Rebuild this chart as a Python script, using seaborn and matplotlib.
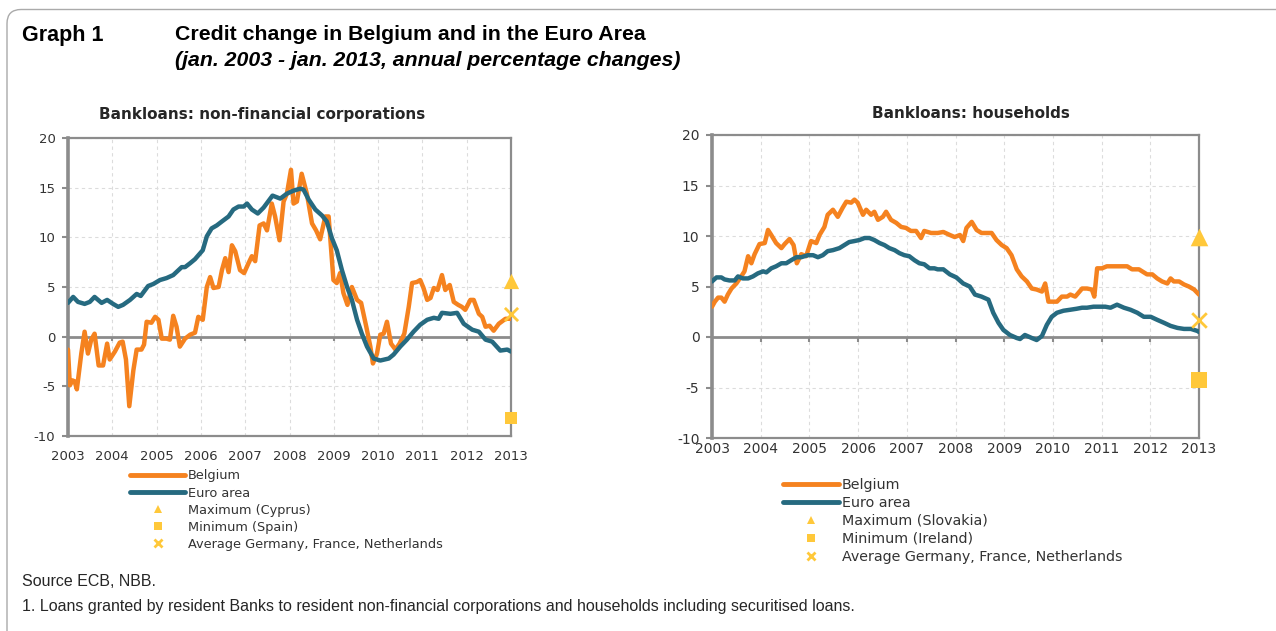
import numpy as np
import pandas as pd
import matplotlib.pyplot as plt
import seaborn as sns
from matplotlib.lines import Line2D
from matplotlib.patches import FancyBboxPatch

# ---- data (months since jan. 2003, annual % change) ----
nfc_be_m = [0, 0.5, 1.2, 1.8, 2.4, 3.6, 4.5, 5.4, 6.3, 7.2, 8.3, 9.5, 10.6, 11.3, 12.7, 14.0, 14.8, 15.7,
            16.6, 17.7, 18.6, 19.9, 20.6, 21.3, 22.6, 23.6, 24.5, 25.4, 26.7, 27.6, 28.5, 29.4, 30.3,
            31.7, 33.1, 34.4, 35.3, 36.5, 37.6, 38.5, 39.4, 40.8, 41.7, 42.6, 43.5, 44.4, 45.3, 46.6,
            47.7, 48.9, 49.8, 50.7, 51.9, 53.0, 53.9, 55.2, 56.1, 57.3, 58.4, 59.3, 60.4, 61.1, 62.0,
            63.3, 64.7, 66.1, 67.2, 68.3, 69.7, 70.6, 71.9, 72.8, 73.7, 74.6, 75.7, 76.9, 78.3, 79.4,
            80.8, 81.9, 82.6, 83.7, 84.6, 85.5, 86.4, 87.5, 88.7, 89.8, 91.1, 92.3, 93.2, 94.5, 95.4,
            96.3, 97.3, 98.2, 99.1, 100.1, 101.3, 102.2, 103.4, 104.5, 105.7, 106.7, 107.6, 109.0,
            109.9, 111.3, 112.2, 113.1, 114.2, 115.3, 116.7, 118.5, 120.0]
nfc_be_v = [-1.3, -4.9, -4.4, -4.5, -5.3, -1.7, 0.5, -1.7, -0.3, 0.3, -2.9, -2.9, -0.7, -2.3, -1.5, -0.6,
            -0.5, -2.3, -7.0, -3.4, -1.3, -1.3, -0.8, 1.5, 1.4, 2.0, 1.7, -0.2, -0.2, -0.3, 2.1, 1.0,
            -1.0, -0.2, 0.2, 0.4, 2.0, 1.7, 5.0, 6.0, 4.9, 5.0, 6.7, 7.9, 6.5, 9.2, 8.6, 6.7, 6.4, 7.4,
            8.1, 7.6, 11.2, 11.4, 10.7, 13.4, 12.1, 9.7, 13.6, 14.4, 16.8, 13.4, 13.6, 16.4, 14.4, 11.4,
            10.7, 9.8, 12.1, 12.1, 5.7, 5.4, 6.4, 4.4, 3.2, 5.0, 3.7, 3.4, 1.0, -1.0, -2.7, -1.7, 0.2,
            0.3, 1.5, -0.7, -1.3, -0.7, 0.3, 3.0, 5.4, 5.5, 5.7, 4.9, 3.7, 3.9, 4.9, 4.7, 6.2, 4.7, 5.2,
            3.5, 3.2, 3.0, 2.7, 3.7, 3.7, 2.3, 2.0, 1.0, 1.1, 0.6, 1.3, 1.8, 1.8]

nfc_ea_m = [0, 1.4, 2.7, 4.5, 5.9, 7.2, 9.1, 10.6, 12.2, 13.6, 14.9, 16.8, 18.6, 19.7, 21.7, 23.1, 24.9,
            26.7, 28.5, 30.8, 31.7, 33.1, 34.4, 35.8, 36.5, 37.6, 38.9, 40.3, 41.7, 43.5, 44.8, 46.2,
            47.6, 48.5, 49.8, 51.4, 53.0, 55.4, 57.5, 59.3, 61.1, 62.9, 63.8, 65.2, 67.0, 68.8, 70.1,
            71.5, 72.8, 74.2, 75.6, 76.9, 78.3, 79.6, 81.0, 82.8, 84.6, 86.9, 88.2, 90.0, 91.8, 93.6,
            95.4, 97.3, 99.1, 100.4, 101.3, 103.6, 105.4, 107.2, 109.5, 111.3, 113.1, 114.9, 117.1,
            119.0, 120.0]
nfc_ea_v = [3.4, 4.0, 3.5, 3.3, 3.5, 4.0, 3.4, 3.7, 3.3, 3.0, 3.2, 3.7, 4.3, 4.1, 5.1, 5.3, 5.7, 5.9, 6.2,
            7.0, 7.0, 7.4, 7.8, 8.4, 8.7, 10.1, 10.9, 11.2, 11.6, 12.1, 12.8, 13.1, 13.1, 13.4, 12.8,
            12.4, 13.0, 14.2, 13.9, 14.4, 14.7, 14.9, 14.8, 13.8, 12.8, 12.2, 11.6, 9.9, 8.7, 6.7, 5.0,
            3.7, 1.7, 0.3, -1.0, -2.2, -2.4, -2.2, -1.8, -1.0, -0.3, 0.5, 1.2, 1.7, 1.9, 1.8, 2.4, 2.3,
            2.4, 1.3, 0.7, 0.5, -0.3, -0.5, -1.4, -1.3, -1.5]

hh_be_m = [0, 0.7, 1.5, 2.3, 3.1, 3.9, 4.8, 6.0, 7.2, 8.0, 8.9, 9.7, 10.5, 11.7, 13.0, 13.8, 14.6, 15.8,
           17.1, 17.9, 19.1, 20.1, 20.9, 22.0, 23.2, 24.4, 25.7, 26.5, 27.7, 28.5, 29.8, 31.0, 32.2,
           33.1, 34.3, 35.1, 35.9, 37.2, 38.0, 39.2, 40.0, 40.9, 42.1, 42.9, 44.1, 45.4, 46.6, 47.8,
           49.0, 50.3, 51.5, 52.3, 54.0, 55.6, 57.0, 58.6, 59.8, 61.1, 61.9, 62.7, 64.0, 65.2, 66.4,
           68.9, 70.1, 71.4, 72.6, 73.8, 75.1, 76.3, 77.6, 78.8, 80.0, 81.3, 82.1, 82.9, 84.2, 85.0,
           86.2, 87.5, 88.3, 89.5, 91.2, 92.4, 93.6, 94.2, 94.9, 96.1, 97.3, 99.0, 100.6, 102.3,
           103.5, 105.2, 106.0, 107.2, 108.5, 109.7, 110.9, 112.2, 113.0, 113.8, 115.1, 116.3,
           117.5, 118.8, 120.0]
hh_be_v = [3.0, 3.5, 3.9, 3.9, 3.5, 4.2, 4.8, 5.3, 6.0, 6.5, 8.0, 7.3, 8.2, 9.2, 9.3, 10.6, 10.1, 9.3,
           8.8, 9.2, 9.7, 9.1, 7.3, 8.2, 8.0, 9.5, 9.3, 10.1, 10.9, 12.1, 12.6, 11.9, 12.8, 13.4, 13.3,
           13.6, 13.3, 12.1, 12.6, 12.1, 12.4, 11.6, 11.9, 12.4, 11.6, 11.3, 10.9, 10.8, 10.5, 10.5,
           9.8, 10.5, 10.3, 10.3, 10.4, 10.1, 9.9, 10.1, 9.5, 10.8, 11.4, 10.6, 10.3, 10.3, 9.6, 9.1,
           8.8, 8.1, 6.7, 6.0, 5.5, 4.8, 4.7, 4.5, 5.3, 3.5, 3.5, 3.5, 4.0, 4.0, 4.2, 4.0, 4.8, 4.8,
           4.7, 4.0, 6.8, 6.8, 7.0, 7.0, 7.0, 7.0, 6.7, 6.7, 6.5, 6.2, 6.2, 5.8, 5.5, 5.3, 5.8, 5.5,
           5.5, 5.2, 5.0, 4.7, 4.2]

hh_ea_m = [0, 1.1, 2.3, 3.1, 4.3, 5.6, 6.4, 7.6, 8.9, 10.1, 11.3, 12.6, 13.4, 14.6, 15.8, 17.1, 18.3,
           19.5, 20.8, 22.0, 23.6, 24.9, 26.1, 27.3, 28.5, 29.8, 31.4, 32.6, 33.8, 35.1, 36.3, 37.6,
           38.8, 40.0, 41.3, 42.5, 43.7, 45.0, 46.2, 47.4, 48.6, 49.9, 51.1, 52.3, 53.6, 54.8, 55.6,
           57.0, 58.6, 60.2, 61.9, 63.5, 64.8, 66.4, 68.1, 69.3, 70.6, 71.8, 73.4, 75.1, 75.9, 77.1,
           78.8, 80.0, 81.3, 82.5, 83.7, 85.0, 86.6, 88.3, 89.9, 91.2, 92.4, 94.0, 95.7, 96.9, 98.2,
           99.8, 101.5, 103.1, 104.8, 106.4, 108.1, 109.7, 111.4, 113.0, 114.7, 116.3, 118.0, 119.6,
           120.0]
hh_ea_v = [5.5, 5.9, 5.9, 5.7, 5.6, 5.6, 6.0, 5.8, 5.8, 6.0, 6.3, 6.5, 6.4, 6.8, 7.0, 7.3, 7.3, 7.6,
           7.9, 7.9, 8.1, 8.1, 7.9, 8.1, 8.5, 8.6, 8.8, 9.1, 9.4, 9.5, 9.6, 9.8, 9.8, 9.6, 9.3, 9.1,
           8.8, 8.6, 8.3, 8.1, 8.0, 7.6, 7.3, 7.2, 6.8, 6.8, 6.7, 6.7, 6.2, 5.9, 5.3, 5.0, 4.2, 4.0,
           3.7, 2.4, 1.4, 0.7, 0.2, -0.1, -0.2, 0.2, -0.1, -0.3, 0.1, 1.2, 2.0, 2.4, 2.6, 2.7, 2.8,
           2.9, 2.9, 3.0, 3.0, 3.0, 2.9, 3.2, 2.9, 2.7, 2.4, 2.0, 2.0, 1.7, 1.4, 1.1, 0.9, 0.8, 0.8,
           0.6, 0.5]

# jan. 2013 country markers: maximum, minimum, average DE/FR/NL
nfc_markers = [5.6, -8.2, 2.3]
hh_markers = [9.9, -4.3, 1.7]
nfc_marker_labels = ["Maximum (Cyprus)", "Minimum (Spain)", "Average Germany, France, Netherlands"]
hh_marker_labels = ["Maximum (Slovakia)", "Minimum (Ireland)", "Average Germany, France, Netherlands"]
years = list(range(2003, 2014))

ORANGE = "#F5821F"
BLUE = "#266A80"
GOLD = "#FFC83A"
GREY = "#8C8C8C"

sns.set_style("white")
plt.rcParams["font.family"] = ["DejaVu Sans"]
plt.rcParams["axes.unicode_minus"] = False

W, H = 1276, 631
fig = plt.figure(figsize=(W / 100, H / 100), dpi=100)


def px(x, y):
    return x / W, 1 - y / H


def to_df(months, values):
    return pd.DataFrame({"date": 2003 + np.array(months) / 12, "value": values})


def draw_panel(ax, be, ea, markers, msize, labsize, xpad):
    ax.set_xlim(2003, 2013)
    ax.set_ylim(-10, 20)
    ax.set_xticks(years)
    ax.set_yticks(range(-10, 25, 5))
    ax.grid(True, color="#DCDCDC", linestyle=(0, (3, 3)), linewidth=0.8)
    ax.set_axisbelow(True)
    ax.axhline(0, color=GREY, lw=2, zorder=2)
    ax.vlines(years, -0.45, 0, color=GREY, lw=1.5, zorder=2)
    sns.lineplot(data=be, x="date", y="value", ax=ax, color=ORANGE, lw=3.2, zorder=3)
    sns.lineplot(data=ea, x="date", y="value", ax=ax, color=BLUE, lw=3.2, zorder=4)
    for val, m, s in zip(markers, ["^", "s", "x"], msize):
        ax.scatter([2013], [val], marker=m, s=s, color=GOLD, zorder=5, clip_on=False,
                   linewidths=2 if m == "x" else 0)
    for side in ["top", "right", "bottom"]:
        ax.spines[side].set_color(GREY)
        ax.spines[side].set_linewidth(1.6)
    ax.spines["left"].set_color(GREY)
    ax.spines["left"].set_linewidth(2.6)
    ax.tick_params(axis="y", direction="out", length=4, width=1.5, color=GREY,
                   labelsize=labsize, labelcolor="#333333", pad=5, left=True)
    ax.tick_params(axis="x", length=0, labelsize=labsize, labelcolor="#333333", pad=xpad)
    ax.set_xlabel("")
    ax.set_ylabel("")


ax1 = fig.add_axes([68 / W, 1 - 436 / H, 443 / W, 298 / H])
draw_panel(ax1, to_df(nfc_be_m, nfc_be_v), to_df(nfc_ea_m, nfc_ea_v), nfc_markers,
           [120, 85, 90], 9.5, 10)

ax2 = fig.add_axes([712 / W, 1 - 438 / H, 487 / W, 303 / H])
draw_panel(ax2, to_df(hh_be_m, hh_be_v), to_df(hh_ea_m, hh_ea_v), hh_markers,
           [160, 120, 110], 10, 3)

# panel titles
fig.text(*px(262, 114), "Bankloans: non-financial corporations", ha="center", va="center",
         fontsize=11, fontweight="bold")
fig.text(*px(971, 114), "Bankloans: households", ha="center", va="center",
         fontsize=11, fontweight="bold")


def legend_handles(labels):
    h = [Line2D([], [], color=ORANGE, lw=3.5, solid_capstyle="round"),
         Line2D([], [], color=BLUE, lw=3.5, solid_capstyle="round")]
    for m in ["^", "s", "x"]:
        h.append(Line2D([], [], ls="", marker=m, color=GOLD, markersize=6, markeredgewidth=2 if m == "x" else 0))
    return h, ["Belgium", "Euro area"] + labels


h, l = legend_handles(nfc_marker_labels)
fig.legend(h, l, loc="upper left", bbox_to_anchor=px(124, 463), frameon=False, fontsize=9.3,
           handlelength=4.2, handletextpad=0.25, labelspacing=0.32, borderpad=0,
           labelcolor="#333333")
h, l = legend_handles(hh_marker_labels)
fig.legend(h, l, loc="upper left", bbox_to_anchor=px(776, 471), frameon=False, fontsize=10.3,
           handlelength=3.9, handletextpad=0.2, labelspacing=0.27, borderpad=0,
           labelcolor="#333333")

# header and footer
hdr = dict(family="Liberation Sans", fontweight="bold", va="center", color="black")
fig.text(*px(22, 35), "Graph 1", fontsize=15.5, **hdr)
fig.text(*px(175, 35), "Credit change in Belgium and in the Euro Area", fontsize=15.3, **hdr)
fig.text(*px(175, 60), "(jan. 2003 - jan. 2013, annual percentage changes)", fontsize=15.3,
         style="italic", **hdr)
fig.text(*px(22, 582), "Source ECB, NBB.", family="Liberation Sans", fontsize=11.5, va="center")
fig.text(*px(22, 607), "1. Loans granted by resident Banks to resident non-financial corporations "
         "and households including securitised loans.", family="Liberation Sans", fontsize=11.5,
         va="center")

# rounded frame of the box
frame = FancyBboxPatch((7 / W, -0.2), 1.2, 1 - 9.5 / H + 0.2,
                       boxstyle="round,pad=0,rounding_size=0.011", mutation_aspect=W / H,
                       transform=fig.transFigure, fill=False, edgecolor="#AAAAAA", lw=1,
                       clip_on=False)
fig.patches.append(frame)

fig.savefig("out.png", dpi=100)
